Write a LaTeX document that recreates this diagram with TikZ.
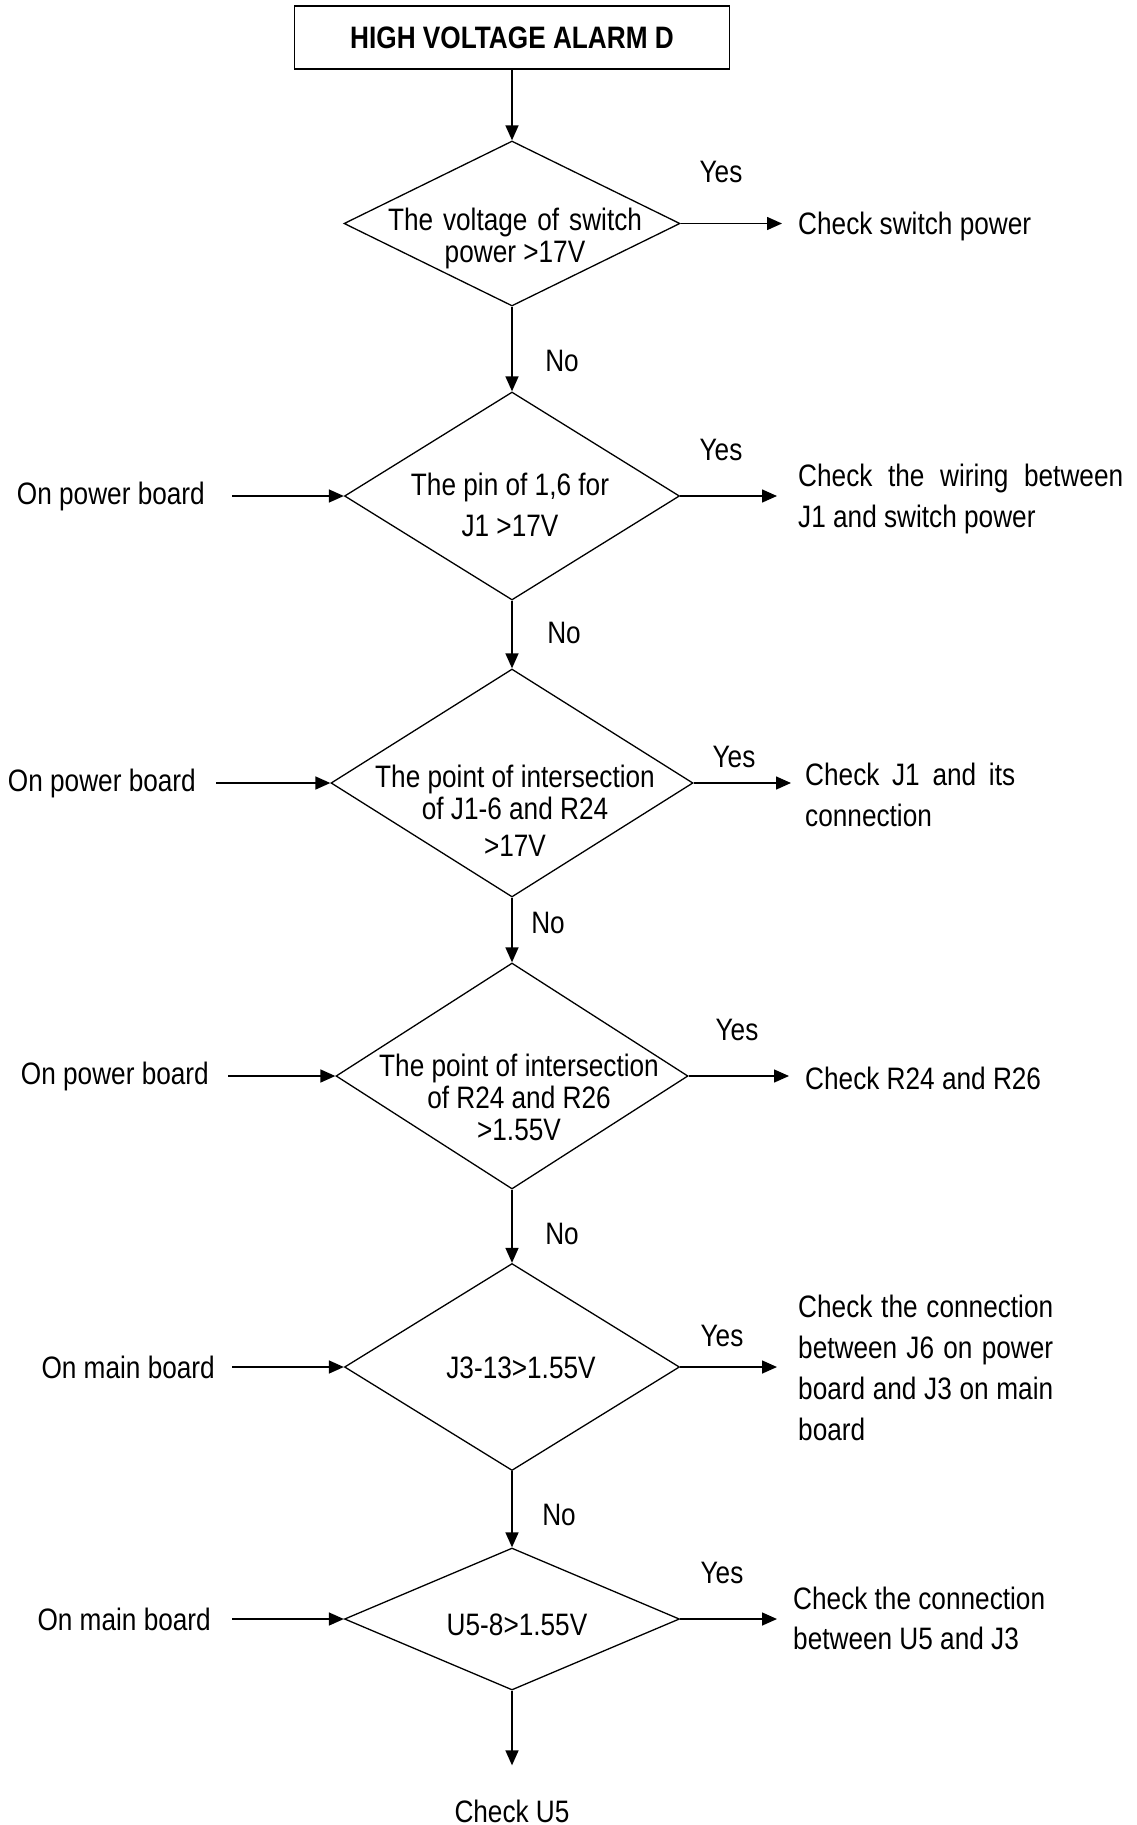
\documentclass[tikz,border=0pt]{standalone}
\usepackage{fontspec}
\setmainfont{Liberation Sans}[FakeStretch=0.845]
\usetikzlibrary{positioning,arrows.meta,shapes.geometric}

\begin{document}
\begin{tikzpicture}[x=1pt,y=-1pt,
    every node/.style={font=\fontsize{31}{41}\selectfont,inner sep=0pt},
    decision/.style={draw,diamond,line width=1.3pt,inner sep=0pt},
    flowarrow/.style={-{Triangle[length=15pt,width=13pt]},line width=1.5pt}]
    \useasboundingbox (0,0) rectangle (1136,1825);
    \node[draw,line width=1.6pt,minimum width=435pt,minimum height=63pt,font=\fontsize{31}{41}\selectfont\bfseries] (title) at (512,37.5) {HIGH VOLTAGE ALARM D};

    \node[decision,minimum width=336pt,minimum height=165pt] (d1) at (512,223.5) {};
    \node[decision,minimum width=335pt,minimum height=208pt] (d2) at (512,496) {};
    \node[decision,minimum width=362pt,minimum height=228pt] (d3) at (512,783) {};
    \node[decision,minimum width=352pt,minimum height=226pt] (d4) at (512,1076) {};
    \node[decision,minimum width=335pt,minimum height=207pt] (d5) at (512,1367) {};
    \node[decision,minimum width=335pt,minimum height=142pt] (d6) at (512,1619) {};

    \node[align=center] (t1) at (515,238) {\makebox[254pt][s]{The voltage of switch}\\[-9pt]power >17V};
    \node[align=center] (t2) at (510,505) {The pin of 1,6 for\\J1 >17V};
    \node[align=center] (t3) at (515,810.5) {The point of intersection\\[-9pt]of J1-6 and R24\\[-4pt]>17V};
    \node[align=center] (t4) at (519,1097) {The point of intersection\\[-9pt]of R24 and R26\\[-9pt]>1.55V};
    \node[anchor=base] (t5) at (521,1378) {J3-13>1.55V};
    \node[anchor=base] (t6) at (517,1635) {U5-8>1.55V};

    \node[anchor=base west] (c1) at (798,234) {Check switch power};
    \node[anchor=west,align=left] (c2) at (798,498.5) {\makebox[325pt][s]{Check the wiring between}\\J1 and switch power};
    \node[anchor=west,align=left] (c3) at (805,795) {\makebox[210pt][s]{Check J1 and its}\\connection};
    \node[anchor=base west] (c4) at (805,1089) {Check R24 and R26};
    \node[anchor=west,align=left] (c5) at (798,1368) {\makebox[255pt][s]{Check the connection}\\\makebox[255pt][s]{between J6 on power}\\\makebox[255pt][s]{board and J3 on main}\\board};
    \node[anchor=west,align=left] (c6) at (793,1618) {Check the connection\\[-1pt]between U5 and J3};
    \node[anchor=base] (u5) at (512,1822) {Check U5};

    \node[anchor=east] (p2) at (205,496) {On power board};
    \node[anchor=east] (p3) at (196,783) {On power board};
    \node[anchor=east] (p4) at (209,1076) {On power board};
    \node[anchor=east] (m5) at (215,1367) {On main board};
    \node[anchor=east] (m6) at (211,1619) {On main board};

    \node[anchor=base] (y1) at (721,182) {Yes};
    \node[anchor=base] (y2) at (721,460) {Yes};
    \node[anchor=base] (y3) at (734,767) {Yes};
    \node[anchor=base] (y4) at (737,1040) {Yes};
    \node[anchor=base] (y5) at (722,1346) {Yes};
    \node[anchor=base] (y6) at (722,1583) {Yes};
    \node[anchor=base] (n1) at (562,371) {No};
    \node[anchor=base] (n2) at (564,643) {No};
    \node[anchor=base] (n3) at (548,933) {No};
    \node[anchor=base] (n4) at (562,1244) {No};
    \node[anchor=base] (n5) at (559,1525) {No};

    \draw[flowarrow] (title) -- (d1);
    \draw[flowarrow] (d1) -- (d2);
    \draw[flowarrow] (d2) -- (d3);
    \draw[flowarrow] (d3) -- (d4);
    \draw[flowarrow] (d4) -- (d5);
    \draw[flowarrow] (d5) -- (d6);
    \draw[flowarrow,shorten >=34pt] (d6) -- (u5);

    \draw[flowarrow,shorten >=16pt] (d1.east) -- (d1.east -| c1.west);
    \draw[flowarrow,shorten >=21pt] (d2.east) -- (d2.east -| c2.west);
    \draw[flowarrow,shorten >=14pt] (d3.east) -- (d3.east -| c3.west);
    \draw[flowarrow,shorten >=16pt] (d4.east) -- (d4.east -| c4.west);
    \draw[flowarrow,shorten >=21pt] (d5.east) -- (d5.east -| c5.west);
    \draw[flowarrow,shorten >=16pt] (d6.east) -- (d6.east -| c6.west);

    \draw[flowarrow,shorten <=27pt] (p2.east) -- (d2.west);
    \draw[flowarrow,shorten <=20pt] (p3.east) -- (d3.west);
    \draw[flowarrow,shorten <=19pt] (p4.east) -- (d4.west);
    \draw[flowarrow,shorten <=17pt] (m5.east) -- (d5.west);
    \draw[flowarrow,shorten <=21pt] (m6.east) -- (d6.west);
  \end{tikzpicture}
\end{document}
